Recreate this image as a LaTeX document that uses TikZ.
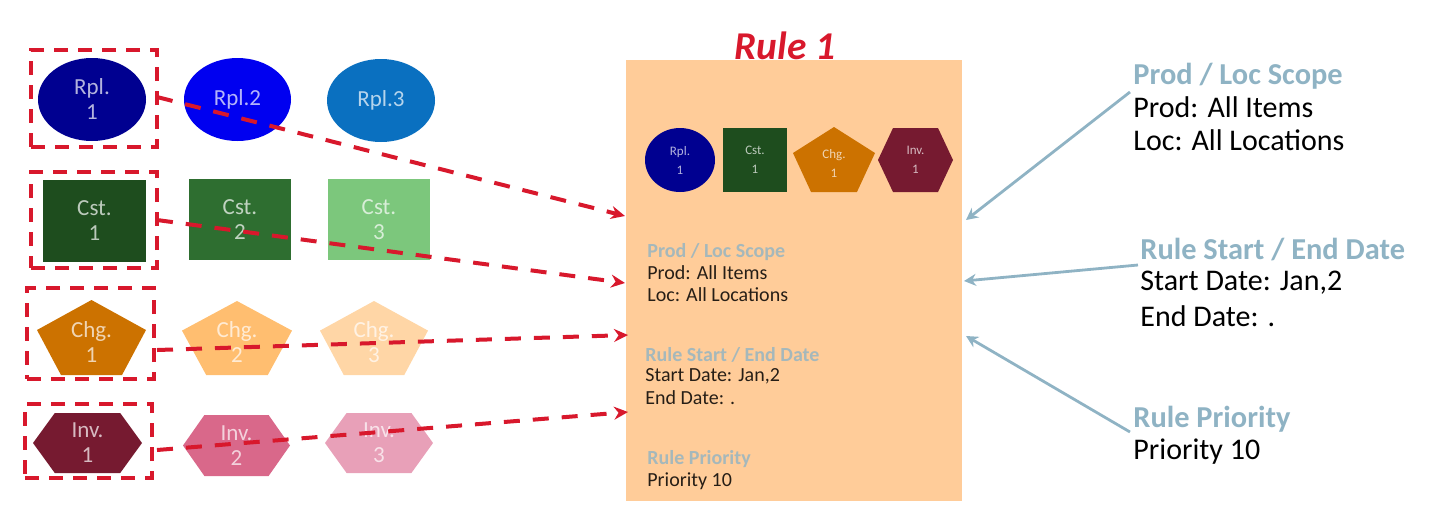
\documentclass[tikz,border=0pt]{standalone}
\usepackage{fontspec}
\setmainfont{Carlito}
\usetikzlibrary{shapes.geometric,arrows.meta}
\definecolor{rplA}{HTML}{000090}\definecolor{rplB}{HTML}{0000F0}\definecolor{rplC}{HTML}{0A70C0}
\definecolor{cstA}{HTML}{1E4D1E}\definecolor{cstB}{HTML}{2E6E30}\definecolor{cstC}{HTML}{7CC77C}
\definecolor{chgA}{HTML}{CC7200}\definecolor{chgB}{HTML}{FFBE70}\definecolor{chgC}{HTML}{FFD6A6}
\definecolor{invA}{HTML}{761A30}\definecolor{invB}{HTML}{D9688A}\definecolor{invC}{HTML}{E8A0B8}
\definecolor{ruleBg}{HTML}{FFCC99}\definecolor{ruleRed}{HTML}{D8182C}\definecolor{scopeBlue}{HTML}{8FB3C4}
\tikzset{
  x=0.5pt,y=-0.5pt,
  shapetext/.style={text=white,text opacity=.7,align=center,font=\fontsize{11.5}{12.5}\selectfont,inner sep=0pt},
  smalltext/.style={shapetext,font=\fontsize{6.5}{9.5}\selectfont},
  dashbox/.style={draw=ruleRed,dash pattern=on 7pt off 5pt,line width=1.6pt,inner sep=0pt},
  redlink/.style={draw=ruleRed,dash pattern=on 8pt off 6.5pt,line width=2pt,-{Stealth[length=7pt,width=6.5pt]}},
  bluelink/.style={draw=scopeBlue,line width=1.4pt,-{Stealth[length=6pt,width=6pt]}},
  bighead/.style={text=scopeBlue,anchor=west,inner sep=0pt,font=\bfseries\fontsize{15.2}{17}\selectfont},
  bigbody/.style={text=black,anchor=west,inner sep=0pt,font=\fontsize{15}{17}\selectfont},
  smallhead/.style={text=scopeBlue,text opacity=.8,anchor=west,inner sep=0pt,font=\bfseries\fontsize{10}{11}\selectfont},
  smallbody/.style={text=black,text opacity=.85,anchor=west,inner sep=0pt,font=\fontsize{10}{11}\selectfont},
}
% name, left, right, top, bottom, colour, style, text
\newcommand{\ovalshape}[8]{\fill[#6] ({(#2+#3)/2},{(#4+#5)/2}) ellipse ({(#3-#2)/2} and {(#5-#4)/2});
  \node[#7] (#1) at ({(#2+#3)/2},{(#4+#5)/2}) {#8};}
\newcommand{\boxshape}[8]{\fill[#6] (#2,#4) rectangle (#3,#5);
  \node[#7] (#1) at ({(#2+#3)/2},{(#4+#5)/2}) {#8};}
\newcommand{\pentshape}[8]{\fill[#6] ({(#2+#3)/2},#4) -- (#3,{#4+0.40*(#5-#4)}) -- ({#3-0.22*(#3-#2)},#5) -- ({#2+0.22*(#3-#2)},#5) -- (#2,{#4+0.40*(#5-#4)}) -- cycle;
  \node[#7] (#1) at ({(#2+#3)/2},{#4+0.56*(#5-#4)}) {#8};}
\newcommand{\hexshape}[8]{\fill[#6] ({#2+0.2*(#3-#2)},#4) -- ({#3-0.2*(#3-#2)},#4) -- (#3,{(#4+#5)/2}) -- ({#3-0.2*(#3-#2)},#5) -- ({#2+0.2*(#3-#2)},#5) -- (#2,{(#4+#5)/2}) -- cycle;
  \node[#7] (#1) at ({(#2+#3)/2},{(#4+#5)/2}) {#8};}
\newcommand{\dashframe}[5]{\node[dashbox,minimum width={(#3-#2)*0.5pt},minimum height={(#5-#4)*0.5pt}] (#1) at ({(#2+#3)/2},{(#4+#5)/2}) {};}
\begin{document}
\begin{tikzpicture}
\useasboundingbox (0,0) rectangle (1440,510);
% rule panel
\node[fill=ruleBg,minimum width=168pt,minimum height=220.5pt,inner sep=0pt] (rule) at (794,280.5) {};
\node[text=ruleRed,inner sep=0pt,font=\bfseries\itshape\fontsize{19.7}{22}\selectfont] (ruletitle) at (785,46) {Rule 1};
% left grid
\ovalshape{r1}{38}{146}{58}{141}{rplA}{shapetext}{Rpl.\\1}
\ovalshape{r2}{184}{291}{58}{141}{rplB}{shapetext}{Rpl.2}
\ovalshape{r3}{327}{435}{59}{142}{rplC}{shapetext}{Rpl.3}
\boxshape{c1}{43}{146}{180}{262}{cstA}{shapetext}{Cst.\\1}
\boxshape{c2}{189}{291}{179}{260}{cstB}{shapetext}{Cst.\\2}
\boxshape{c3}{328}{430}{179}{260}{cstC}{shapetext}{Cst.\\3}
\pentshape{g1}{37}{146}{300}{375}{chgA}{shapetext}{Chg.\\1}
\pentshape{g2}{182}{292}{301}{375}{chgB}{shapetext}{Chg.\\2}
\pentshape{g3}{320}{428}{301}{375}{chgC}{shapetext}{Chg.\\3}
\hexshape{i1}{33}{142}{413}{473}{invA}{shapetext}{Inv.\\1}
\hexshape{i2}{183}{290}{415}{476}{invB}{shapetext}{Inv.\\2}
\hexshape{i3}{325}{433}{413}{473}{invC}{shapetext}{Inv.\\3}
% rule icons
\ovalshape{sr}{645}{715}{128}{192}{rplA}{smalltext}{Rpl.\\1}
\boxshape{sc}{723}{787}{128}{192}{cstA}{smalltext}{Cst.\\1}
\pentshape{sg}{793}{875}{127}{192}{chgA}{smalltext}{Chg.\\1}
\hexshape{si}{878}{953}{128}{192}{invA}{smalltext}{Inv.\\1}
% dashed frames
\dashframe{f1}{31}{157}{50}{147}
\dashframe{f2}{31}{157}{172}{268}
\dashframe{f3}{27}{154}{288}{379}
\dashframe{f4}{25}{152}{404}{478}
% panel text
\node[smallhead] (p1) at (647,252) {Prod / Loc Scope};
\node[smallbody] (p2) at (647,273) {Prod: All Items};
\node[smallbody] (p3) at (647,295) {Loc: All Locations};
\node[smallhead] (p4) at (645,355) {Rule Start / End Date};
\node[smallbody] (p5) at (645,376) {Start Date: Jan,2};
\node[smallbody] (p6) at (645,398) {End Date: .};
\node[smallhead] (p7) at (647,459) {Rule Priority};
\node[smallbody] (p8) at (647,481) {Priority 10};
% right text
\node[bighead] (t1) at (1133,76) {Prod / Loc Scope};
\node[bigbody] (t2) at (1133,107) {Prod: All Items};
\node[bigbody] (t3) at (1133,140) {Loc: All Locations};
\node[bighead] (t4) at (1140,250) {Rule Start / End Date};
\node[bigbody] (t5) at (1140,283) {Start Date: Jan,2};
\node[bigbody] (t6) at (1140,316) {End Date: .};
\node[bighead] (t7) at (1133,419) {Rule Priority};
\node[bigbody] (t8) at (1133,452) {Priority 10};
% connector ends
\coordinate (a1) at (157,97);  \coordinate (b1) at (625,216);
\coordinate (a2) at (157,220); \coordinate (b2) at (625,283);
\coordinate (a3) at (157,350); \coordinate (b3) at (628,335);
\coordinate (a4) at (157,450); \coordinate (b4) at (628,412);
\coordinate (u1) at (1130,92);  \coordinate (v1) at (966,220);
\coordinate (u2) at (1138,265); \coordinate (v2) at (964,281);
\coordinate (u3) at (1130,432); \coordinate (v3) at (966,336);
\draw[redlink] (a1) -- (b1);
\draw[redlink] (a2) -- (b2);
\draw[redlink] (a3) -- (b3);
\draw[redlink] (a4) -- (b4);
\draw[bluelink] (u1) -- (v1);
\draw[bluelink] (u2) -- (v2);
\draw[bluelink] (u3) -- (v3);
\end{tikzpicture}
\end{document}
